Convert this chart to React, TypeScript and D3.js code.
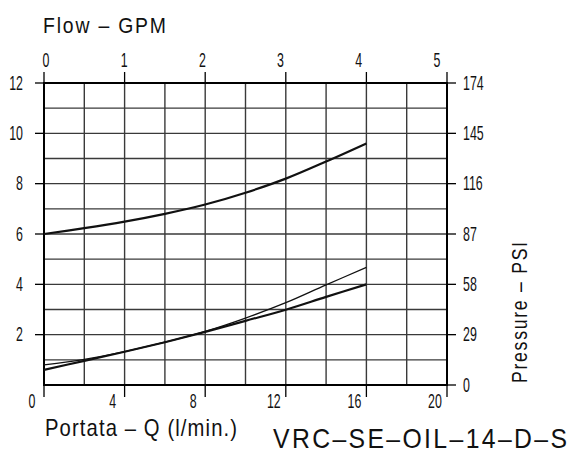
import React, { useEffect, useRef } from 'react'
import * as d3 from 'd3'

// flow in l/min, pressure in bar
const flowLpm = [0, 2, 4, 6, 8, 10, 12, 14, 16]
const upperCurve = [6.0, 6.23, 6.49, 6.8, 7.17, 7.64, 8.2, 8.88, 9.6]
const lowerThick = [0.6, 0.96, 1.32, 1.7, 2.11, 2.55, 2.99, 3.5, 4.0]
const lowerThin = [0.8, 1.02, 1.33, 1.7, 2.13, 2.66, 3.27, 3.98, 4.67]

const bottomTicks = [0, 4, 8, 12, 16, 20]
const gpmTicks = [0, 1, 2, 3, 4, 5]
const barTicks = [2, 4, 6, 8, 10, 12]
const psiTicks = [0, 29, 58, 87, 116, 145, 174]

const FONT = '"Liberation Sans", Arial, sans-serif'

const W = 573
const H = 453
const margin = { left: 44, right: 126, top: 83, bottom: 68 }

// narrow CAD-like lettering: squeeze the glyphs horizontally
const txt = (g, tx: number, ty: number, text: string, opts: any = {}) => {
  const sx = opts.sx ?? 0.62
  const t = g
    .append('text')
    .attr('transform', `translate(${tx},${ty})${opts.rotate ? ' rotate(-90)' : ''} scale(${sx},1)`)
    .attr('text-anchor', opts.anchor ?? 'middle')
    .attr('dominant-baseline', opts.baseline ?? 'auto')
    .attr('font-family', FONT)
    .attr('font-size', opts.size ?? 20)
    .attr('fill', '#111')
    .text(text)
  if (opts.length) t.attr('textLength', opts.length / sx).attr('lengthAdjust', 'spacing')
  return t
}

const draw = (el: SVGSVGElement) => {
  const svg = d3.select(el)
  svg.selectAll('*').remove()

  const x = d3.scaleLinear().domain([0, 20]).range([margin.left, W - margin.right])
  const y = d3.scaleLinear().domain([0, 12]).range([H - margin.bottom, margin.top])
  // right axis shows psi at every 2 bar
  const yPsi = d3.scaleLinear().domain([0, 174]).range(y.range())
  const gpmX = d3.scaleLinear().domain([0, 5]).range([x(0) + 2, x(19.5)])

  const g = svg.append('g')

  // grid
  g.selectAll('line.vgrid')
    .data(d3.range(2, 20, 2))
    .join('line')
    .attr('x1', d => x(d))
    .attr('x2', d => x(d))
    .attr('y1', y(0))
    .attr('y2', y(12))
    .attr('stroke', '#3a3a3a')
    .attr('stroke-width', 1.4)
  g.selectAll('line.hgrid')
    .data(d3.range(1, 12))
    .join('line')
    .attr('x1', x(0))
    .attr('x2', x(20))
    .attr('y1', d => y(d))
    .attr('y2', d => y(d))
    .attr('stroke', '#3a3a3a')
    .attr('stroke-width', 1.4)

  // frame
  g.append('rect')
    .attr('x', x(0))
    .attr('y', y(12))
    .attr('width', x(20) - x(0))
    .attr('height', y(0) - y(12))
    .attr('fill', 'none')
    .attr('stroke', '#000')
    .attr('stroke-width', 2)

  // tick marks
  bottomTicks.forEach(v => {
    g.append('line')
      .attr('x1', x(v)).attr('x2', x(v))
      .attr('y1', y(0)).attr('y2', y(0) + 12)
      .attr('stroke', '#000').attr('stroke-width', 1.3)
    g.append('line')
      .attr('x1', x(v)).attr('x2', x(v))
      .attr('y1', y(12) - 11).attr('y2', y(12))
      .attr('stroke', '#000').attr('stroke-width', 1.3)
  })
  barTicks.forEach(v => {
    g.append('line')
      .attr('x1', x(0) - 9).attr('x2', x(0))
      .attr('y1', y(v)).attr('y2', y(v))
      .attr('stroke', '#000').attr('stroke-width', 1.3)
  })
  psiTicks.forEach(v => {
    g.append('line')
      .attr('x1', x(20)).attr('x2', x(20) + 9)
      .attr('y1', yPsi(v)).attr('y2', yPsi(v))
      .attr('stroke', '#000').attr('stroke-width', 1.3)
  })

  // tick labels
  bottomTicks.forEach(v => txt(g, x(v) - 12, y(0) + 23, String(v)))
  gpmTicks.forEach(v => txt(g, gpmX(v), y(12) - 16, String(v)))
  barTicks.forEach(v => txt(g, x(0) - 21, y(v), String(v), { anchor: 'end', baseline: 'central' }))
  psiTicks.forEach(v => txt(g, x(20) + 16, yPsi(v), String(v), { anchor: 'start', baseline: 'central' }))

  // curves
  const line = d3
    .line<number>()
    .x((_, i) => x(flowLpm[i]))
    .y(d => y(d))
    .curve(d3.curveCatmullRom.alpha(0.5))

  const curves = [
    { values: upperCurve, width: 2.2 },
    { values: lowerThin, width: 1.3 },
    { values: lowerThick, width: 2.2 }
  ]
  curves.forEach(c => {
    g.append('path')
      .attr('d', line(c.values))
      .attr('fill', 'none')
      .attr('stroke', '#111')
      .attr('stroke-width', c.width)
  })

  // titles
  txt(g, 43, 33, 'Flow  –  GPM', { anchor: 'start', size: 22, sx: 0.88, length: 123 })
  txt(g, 45, 436, 'Portata – Q (l/min.)', { anchor: 'start', size: 23, sx: 0.88, length: 192 })
  txt(g, 527, 383, 'Pressure – PSI', { anchor: 'start', size: 22, sx: 0.8, length: 141, rotate: true })
  txt(g, 273, 448, 'VRC–SE–OIL–14–D–S', { anchor: 'start', size: 27.5, sx: 0.9, length: 294 })
}

export default function App() {
  const ref = useRef<SVGSVGElement>(null)
  useEffect(() => {
    if (ref.current) draw(ref.current)
  }, [])
  return (
    <svg
      ref={ref}
      width={W}
      height={H}
      style={{ position: 'absolute', left: 0, top: 0, background: '#fff' }}
    />
  )
}
